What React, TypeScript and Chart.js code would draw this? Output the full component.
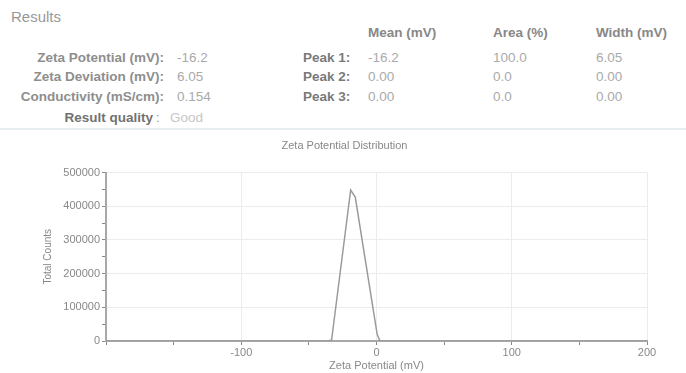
import React, { useEffect, useRef } from "react";
import { Chart, registerables } from "chart.js";

Chart.register(...registerables);

// ---- data ----
const zetaMv: number[] = [-200, -36, -33.2, -19.1, -15.7, 0.5, 2.6, 200];
const totalCounts: number[] = [0, 0, 3000, 448000, 427000, 20000, 0, 0];

const xMin = -200;
const xMax = 200;
const yMin = 0;
const yMax = 500000;

const summaryLabels = ["Zeta Potential (mV):", "Zeta Deviation (mV):", "Conductivity (mS/cm):"];
const summaryValues = ["-16.2", "6.05", "0.154"];
const peakLabels = ["Peak 1:", "Peak 2:", "Peak 3:"];
const peakMeans = ["-16.2", "0.00", "0.00"];
const peakAreas = ["100.0", "0.0", "0.0"];
const peakWidths = ["6.05", "0.00", "0.00"];
const columnHeaders = ["Mean (mV)", "Area (%)", "Width (mV)"];
const qualityLabel = "Result quality";
const qualityValue = "Good";

const FONT = "'Liberation Sans', Arial, Helvetica, sans-serif";

const rowY = [58, 77, 97];

function Txt(props: { x: number; y: number; text: string; bold?: boolean; color?: string; size?: number; right?: boolean }) {
  const { x, y, text, bold, color, size = 13.5, right } = props;
  const style: React.CSSProperties = {
    position: "absolute",
    top: y - 10,
    height: 20,
    lineHeight: "20px",
    fontFamily: FONT,
    fontSize: size,
    fontWeight: bold ? "bold" : "normal",
    color: color || "#999",
    whiteSpace: "nowrap",
  };
  if (right) style.right = 686 - x;
  else style.left = x;
  return <div style={style}>{text}</div>;
}

export default function App() {
  const canvasRef = useRef<HTMLCanvasElement | null>(null);

  useEffect(() => {
    if (!canvasRef.current) return;
    const points = zetaMv.map((x, i) => ({ x, y: totalCounts[i] }));
    const chart = new Chart(canvasRef.current, {
      type: "scatter",
      data: {
        datasets: [
          {
            data: points,
            showLine: true,
            borderColor: "#9a9a9a",
            borderWidth: 1.5,
            pointRadius: 0,
            tension: 0,
          },
        ],
      },
      options: {
        animation: false,
        responsive: false,
        maintainAspectRatio: false,
        layout: { padding: { top: 8, left: 42, right: 39, bottom: 0 } },
        plugins: {
          legend: { display: false },
          tooltip: { enabled: false },
          title: {
            display: true,
            text: "Zeta Potential Distribution",
            color: "#888",
            font: { family: FONT, size: 11, weight: "normal" },
            padding: { top: 1.4, bottom: 19.9 },
          },
        },
        scales: {
          x: {
            type: "linear",
            min: xMin,
            max: xMax,
            afterFit: (scale: any) => {
              scale.height = 32;
            },
            ticks: {
              stepSize: 50,
              padding: 1,
              color: "#888",
              font: { family: FONT, size: 11 },
              maxRotation: 0,
              autoSkip: false,
              callback: (v: any) => {
                const n = Number(v);
                return n % 100 === 0 && n !== xMin ? String(n) : "";
              },
            },
            grid: {
              color: (ctx: any) => {
                const v = ctx.tick ? ctx.tick.value : 0;
                return v % 100 === 0 ? "#ececec" : "rgba(0,0,0,0)";
              },
              tickColor: "#888",
              tickLength: 4,
              lineWidth: 1,
            },
            border: { display: true, color: "#a8a8a8", width: 2 },
            title: {
              display: true,
              text: "Zeta Potential (mV)",
              color: "#888",
              font: { family: FONT, size: 11 },
              padding: 0,
            },
          },
          y: {
            type: "linear",
            min: yMin,
            max: yMax,
            afterFit: (scale: any) => {
              scale.width = 64;
            },
            ticks: {
              stepSize: 50000,
              padding: 2,
              color: "#888",
              font: { family: FONT, size: 11 },
              autoSkip: false,
              callback: (v: any) => {
                const n = Number(v);
                return n % 100000 === 0 ? String(n) : "";
              },
            },
            grid: {
              color: (ctx: any) => {
                const v = ctx.tick ? ctx.tick.value : 0;
                return v % 100000 === 0 ? "#ececec" : "rgba(0,0,0,0)";
              },
              tickColor: "#888",
              tickLength: 4,
              lineWidth: 1,
            },
            border: { display: true, color: "#a8a8a8", width: 2 },
            title: {
              display: true,
              text: "Total Counts",
              color: "#888",
              font: { family: FONT, size: 10 },
              padding: 0,
            },
          },
        },
      },
    });
    return () => chart.destroy();
  }, []);

  return (
    <div style={{ position: "absolute", left: 0, top: 0, width: 686, height: 373, background: "#fff", overflow: "hidden" }}>
      <Txt x={11} y={17} text="Results" size={15} color="#999" />
      <Txt x={368} y={33} text={columnHeaders[0]} bold color="#888" />
      <Txt x={493} y={33} text={columnHeaders[1]} bold color="#888" />
      <Txt x={596} y={33} text={columnHeaders[2]} bold color="#888" />
      {summaryLabels.map((l, i) => (
        <Txt key={"sl" + i} x={164} y={rowY[i]} text={l} bold right color="#8e8e8e" />
      ))}
      {summaryValues.map((v, i) => (
        <Txt key={"sv" + i} x={177} y={rowY[i]} text={v} color="#aaa" />
      ))}
      {peakLabels.map((l, i) => (
        <Txt key={"pl" + i} x={303} y={rowY[i]} text={l} bold color="#7a7a7a" />
      ))}
      {peakMeans.map((v, i) => (
        <Txt key={"pm" + i} x={368} y={rowY[i]} text={v} color="#aaa" />
      ))}
      {peakAreas.map((v, i) => (
        <Txt key={"pa" + i} x={493} y={rowY[i]} text={v} color="#aaa" />
      ))}
      {peakWidths.map((v, i) => (
        <Txt key={"pw" + i} x={596} y={rowY[i]} text={v} color="#aaa" />
      ))}
      <Txt x={153} y={118} text={qualityLabel} bold right color="#727272" />
      <Txt x={156} y={118} text=":" color="#999" />
      <Txt x={170} y={118} text={qualityValue} color="#c6c6c6" />
      <div style={{ position: "absolute", left: 0, top: 128, width: 686, height: 2, background: "#e8eef0" }} />
      <canvas
        ref={canvasRef}
        width={686}
        height={243}
        style={{ position: "absolute", left: 0, top: 130, width: 686, height: 243 }}
      />
    </div>
  );
}
